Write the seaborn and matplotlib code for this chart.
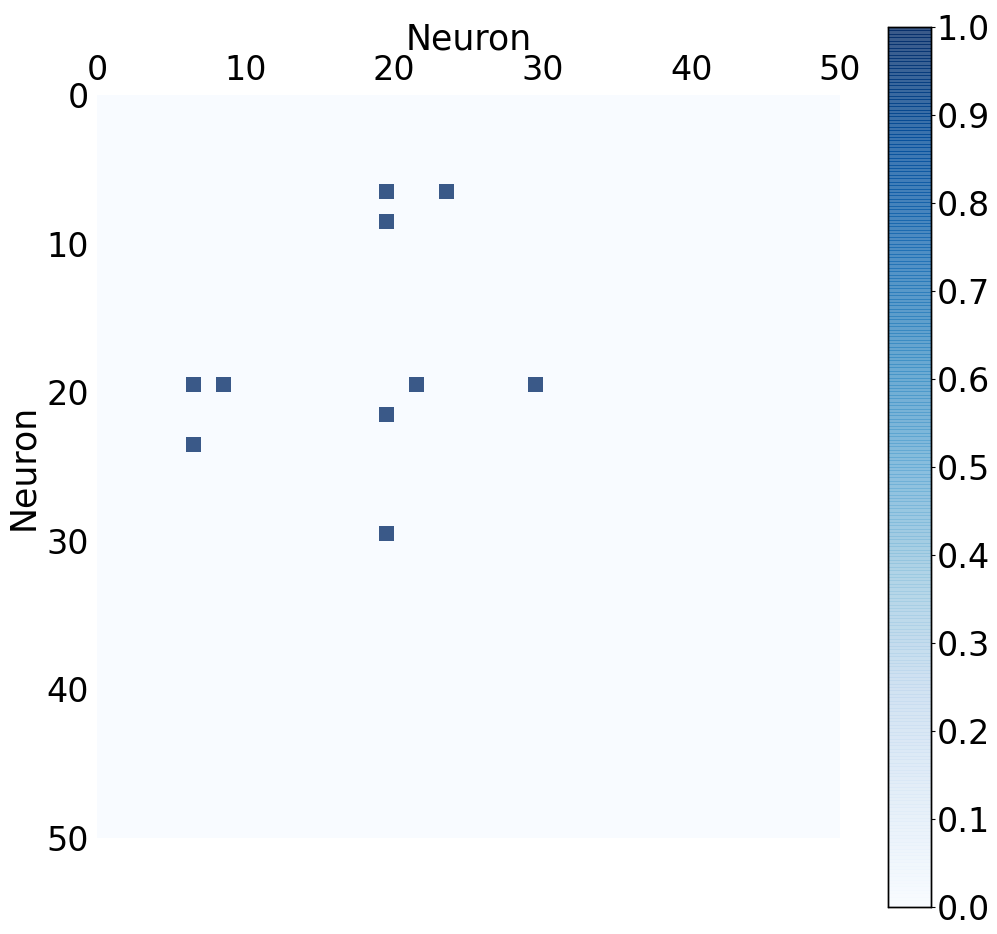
import numpy as np
import matplotlib
matplotlib.use("Agg")
import matplotlib.pyplot as plt
import seaborn as sns

n_neurons = 50
active_rows = [6, 6, 8, 19, 19, 19, 19, 21, 23, 29]
active_cols = [19, 23, 19, 6, 8, 21, 29, 19, 6, 19]
active_vals = [1.0] * 10
tick_vals = [0, 10, 20, 30, 40, 50]
cbar_ticks = [0.0, 0.1, 0.2, 0.3, 0.4, 0.5, 0.6, 0.7, 0.8, 0.9, 1.0]

data = np.zeros((n_neurons, n_neurons))
for r, c, v in zip(active_rows, active_cols, active_vals):
    data[r, c] = v

W, H = 997, 934
fig = plt.figure(figsize=(W / 100, H / 100), dpi=100)
ax = fig.add_axes([97 / W, (H - 838) / H, 743 / W, 743 / H])
cax = fig.add_axes([888 / W, (H - 907) / H, 43 / W, 880 / H])

sns.heatmap(data, cmap="Blues", vmin=0, vmax=1, alpha=0.8, ax=ax, cbar_ax=cax,
            square=True, xticklabels=False, yticklabels=False)

ax.set_xticks(tick_vals)
ax.set_xticklabels([str(t) for t in tick_vals], fontsize=24)
ax.set_yticks(tick_vals)
ax.set_yticklabels([str(t) for t in tick_vals], fontsize=24, rotation=0)
ax.xaxis.tick_top()
ax.xaxis.set_label_position("top")
ax.tick_params(axis="x", length=0, pad=6)
ax.tick_params(axis="y", length=0, pad=6)
ax.set_xlabel("Neuron", fontsize=25, labelpad=3)
ax.set_ylabel("Neuron", fontsize=25, labelpad=4)
for s in ax.spines.values():
    s.set_visible(False)

for coll in cax.collections:
    coll.set_edgecolor("face")
    coll.set_linewidth(0.6)

cax.set_yticks(cbar_ticks)
cax.set_yticklabels([f"{t:.1f}" for t in cbar_ticks], fontsize=24)
cax.tick_params(length=3, width=0.8, pad=1)
for s in cax.spines.values():
    s.set_visible(True)
    s.set_linewidth(1.0)
    s.set_edgecolor("black")

fig.savefig("out.png", dpi=100)
